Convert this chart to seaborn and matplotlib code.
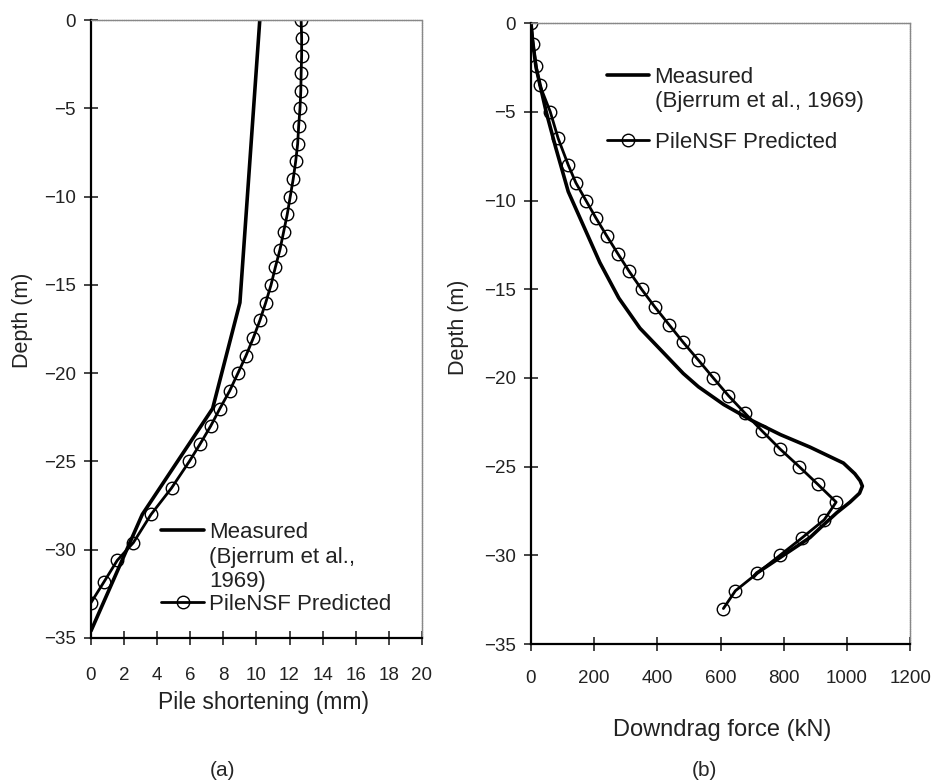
import matplotlib
matplotlib.use("Agg")
import matplotlib.pyplot as plt
import seaborn as sns
import pandas as pd

# (a) pile shortening
pred_a_depth = [0, -1, -2, -3, -4, -5, -6, -7, -8, -9, -10, -11, -12, -13, -14, -15,
                -16, -17, -18, -19, -20, -21, -22, -23, -24, -25,
                -26.5, -28, -29.6, -30.6, -31.8, -33]
pred_a_short = [12.7, 12.73, 12.73, 12.7, 12.68, 12.63, 12.55, 12.49, 12.37, 12.22,
                12.04, 11.86, 11.64, 11.42, 11.14, 10.88, 10.56, 10.21, 9.81, 9.37,
                8.88, 8.38, 7.79, 7.23, 6.6, 5.94, 4.87, 3.63, 2.56, 1.59, 0.8, 0.0]
meas_a_depth = [0, -16, -22, -28, -34.6]
meas_a_short = [10.2, 9.0, 7.35, 3.1, 0.0]

# (b) downdrag force
pred_b_depth = [0, -1.2, -2.4, -3.5, -5, -6.5, -8, -9, -10, -11, -12, -13, -14, -15,
                -16, -17, -18, -19, -20, -21, -22, -23, -24, -25, -26, -27, -28,
                -29, -30, -31, -32, -33]
pred_b_force = [0, 7, 16, 28, 61, 86, 118, 142, 174, 206, 240, 275, 311, 350, 392,
                437, 482, 530, 577, 625, 678, 732, 788, 849, 908, 966, 928, 859,
                788, 717, 647, 609]
meas_b_depth = [0, -1, -2.5, -5, -7, -9.5, -11.5, -13.5, -15.5, -17.2, -18.5, -19.75,
                -20.5, -21.5, -22.4, -23.2, -23.9, -24.8, -25.4, -25.8, -26.1, -26.5,
                -27.0, -27.6, -28.3, -29.0, -30.0, -31.0, -31.2]
meas_b_force = [0, 5, 16, 48, 78, 118, 168, 218, 278, 345, 415, 482, 530, 610, 699,
                790, 883, 989, 1025, 1042, 1049, 1040, 1010, 968, 925, 883, 799, 715, 705]

sns.set_style("ticks")
plt.rcParams["font.family"] = ["Liberation Sans", "DejaVu Sans"]

fig = plt.figure(figsize=(9.36, 7.83), dpi=100)
ax1 = fig.add_axes([0.0972, 0.1852, 0.3536, 0.789])
ax2 = fig.add_axes([0.5673, 0.1775, 0.4050, 0.793])


def draw(ax, md, mx, pd_, px):
    dm = pd.DataFrame({"x": mx, "y": md})
    dp = pd.DataFrame({"x": px, "y": pd_})
    sns.lineplot(data=dm, x="x", y="y", sort=False, estimator=None, ax=ax,
                 color="black", lw=2.6, label="m")
    sns.lineplot(data=dp, x="x", y="y", sort=False, estimator=None, ax=ax,
                 color="black", lw=2.0, marker="o", markersize=9,
                 markerfacecolor="none", markeredgecolor="black",
                 markeredgewidth=1.0, label="p")
    for s in ["top", "right"]:
        ax.spines[s].set_color("#888888")
        ax.spines[s].set_linewidth(1.0)
        ax.spines[s].set_linestyle((0, (1, 0.6)))
    for s in ["left", "bottom"]:
        ax.spines[s].set_color("black")
        ax.spines[s].set_linewidth(1.6)
    ax.tick_params(direction="inout", length=10, width=1.2, labelsize=13.5,
                   labelcolor="#222222")
    ax.set_ylim(-35, 0)
    ax.set_yticks(range(-35, 1, 5))
    ax.set_ylabel("Depth (m)", fontsize=15.5, color="#222222")


draw(ax1, meas_a_depth, meas_a_short, pred_a_depth, pred_a_short)
draw(ax2, meas_b_depth, meas_b_force, pred_b_depth, pred_b_force)

ax1.set_xlim(0, 20)
ax1.set_xticks(range(0, 21, 2))
ax1.tick_params(axis="x", pad=16)
ax1.tick_params(axis="y", pad=6)
ax1.set_xlabel("Pile shortening (mm)", fontsize=16.5, color="#222222")
ax1.xaxis.set_label_coords(0.52, -0.086)
ax1.yaxis.set_label_coords(-0.175, 0.515)

ax2.set_xlim(0, 1200)
ax2.set_xticks(range(0, 1201, 200))
ax2.tick_params(axis="x", pad=14)
ax2.tick_params(axis="y", pad=6)
ax2.set_xlabel("Downdrag force (kN)", fontsize=17, color="#222222")
ax2.xaxis.set_label_coords(0.504, -0.12)
ax2.yaxis.set_label_coords(-0.163, 0.51)

h1, _ = ax1.get_legend_handles_labels()
leg1 = ax1.legend(h1, ["Measured\n(Bjerrum et al.,\n1969)", "PileNSF Predicted"],
                  loc="upper left", bbox_to_anchor=(0.213, 0.187), frameon=False,
                  fontsize=16, handlelength=1.9, handletextpad=0.25,
                  labelspacing=0.1, borderpad=0, borderaxespad=0)
h2, _ = ax2.get_legend_handles_labels()
leg2 = ax2.legend(h2, ["Measured\n(Bjerrum et al., 1969)", "PileNSF Predicted"],
                  loc="upper left", bbox_to_anchor=(0.2, 0.929), frameon=False,
                  fontsize=16, handlelength=1.9, handletextpad=0.25,
                  labelspacing=0.88, borderpad=0, borderaxespad=0)
for leg in (leg1, leg2):
    for col in leg._legend_handle_box.get_children():
        for row in col.get_children():
            row.align = "top"
    for t in leg.get_texts():
        t.set_color("#222222")

fig.text(0.238, 1 - 770 / 783, "(a)", ha="center", va="center", fontsize=15)
fig.text(0.753, 1 - 770 / 783, "(b)", ha="center", va="center", fontsize=15)

fig.savefig("out.png", dpi=100, facecolor="white")
